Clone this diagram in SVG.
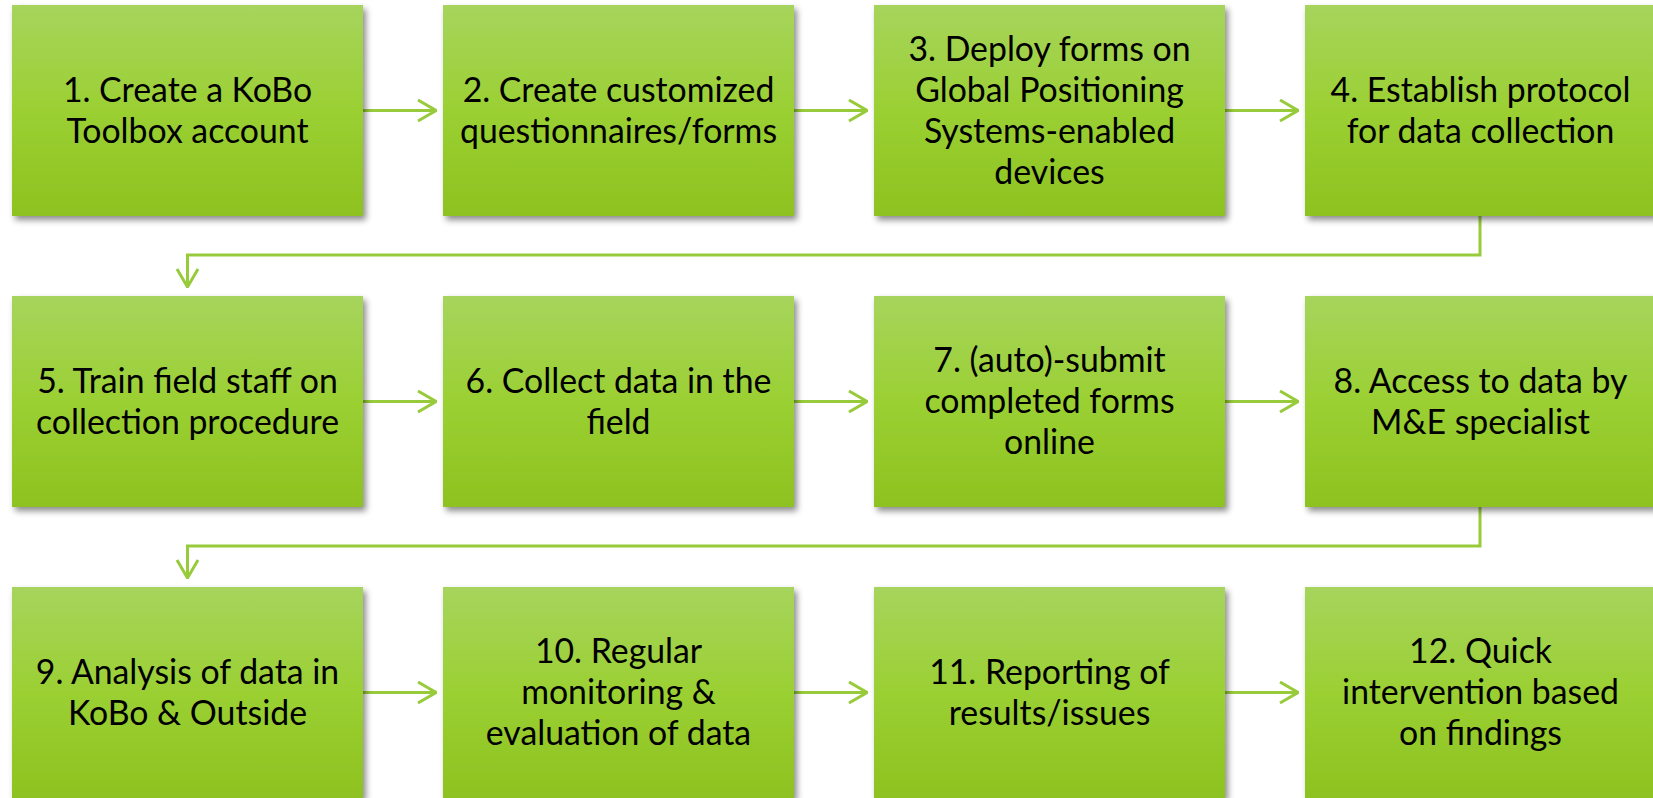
<svg xmlns="http://www.w3.org/2000/svg" width="1653" height="798" viewBox="0 0 1653 798">
  <defs>
    <linearGradient id="boxFill" x1="0" y1="0" x2="0" y2="1">
      <stop offset="0" stop-color="#a6d45c"/>
      <stop offset="0.5" stop-color="#9bd033"/>
      <stop offset="1" stop-color="#8dc220"/>
    </linearGradient>
    <filter id="shadow" x="-5%" y="-5%" width="115%" height="120%">
      <feDropShadow dx="3" dy="4" stdDeviation="3" flood-color="#000" flood-opacity="0.45"/>
    </filter>
    <marker id="chev" viewBox="0 0 20 24" refX="19" refY="12" markerWidth="20" markerHeight="24" markerUnits="userSpaceOnUse" orient="auto">
      <path d="M1,1.5 L19,12 L1,22.5" fill="none" stroke="#98cb3b" stroke-width="3"/>
    </marker>
  </defs>
  <style>
    .box { fill: url(#boxFill); filter: url(#shadow); }
    .lbl { font-family: Lato, "Open Sans", sans-serif; font-size: 33.8px; fill: #000; text-anchor: middle; }
    .conn { fill: none; stroke: #98cb3b; stroke-width: 3; marker-end: url(#chev); }
  </style>
  <rect width="1653" height="798" fill="#fff"/>

  <g id="connectors">
    <path class="conn" d="M363,110.5 H436"/>
    <path class="conn" d="M794,110.5 H867"/>
    <path class="conn" d="M1225,110.5 H1298"/>
    <path class="conn" d="M1480,216 V255 H187.5 V287"/>
    <path class="conn" d="M363,401.5 H436"/>
    <path class="conn" d="M794,401.5 H867"/>
    <path class="conn" d="M1225,401.5 H1298"/>
    <path class="conn" d="M1480,507 V546 H187.5 V578"/>
    <path class="conn" d="M363,692.5 H436"/>
    <path class="conn" d="M794,692.5 H867"/>
    <path class="conn" d="M1225,692.5 H1298"/>
  </g>

  <g id="n1"><rect class="box" x="12" y="5" width="351" height="211"/>
    <text class="lbl"><tspan x="187.5" y="101.5">1. Create a KoBo</tspan><tspan x="187.5" y="142.5">Toolbox account</tspan></text></g>
  <g id="n2"><rect class="box" x="443" y="5" width="351" height="211"/>
    <text class="lbl"><tspan x="618.5" y="101.5">2. Create customized</tspan><tspan x="618.5" y="142.5">questionnaires/forms</tspan></text></g>
  <g id="n3"><rect class="box" x="874" y="5" width="351" height="211"/>
    <text class="lbl"><tspan x="1049.5" y="60.5">3. Deploy forms on</tspan><tspan x="1049.5" y="101.5">Global Positioning</tspan><tspan x="1049.5" y="142.5">Systems-enabled</tspan><tspan x="1049.5" y="183.5">devices</tspan></text></g>
  <g id="n4"><rect class="box" x="1305" y="5" width="351" height="211"/>
    <text class="lbl"><tspan x="1480.5" y="101.5">4. Establish protocol</tspan><tspan x="1480.5" y="142.5">for data collection</tspan></text></g>

  <g id="n5"><rect class="box" x="12" y="296" width="351" height="211"/>
    <text class="lbl"><tspan x="187.5" y="392.5">5. Train field staff on</tspan><tspan x="187.5" y="433.5">collection procedure</tspan></text></g>
  <g id="n6"><rect class="box" x="443" y="296" width="351" height="211"/>
    <text class="lbl"><tspan x="618.5" y="392.5">6. Collect data in the</tspan><tspan x="618.5" y="433.5">field</tspan></text></g>
  <g id="n7"><rect class="box" x="874" y="296" width="351" height="211"/>
    <text class="lbl"><tspan x="1049.5" y="372">7. (auto)-submit</tspan><tspan x="1049.5" y="413">completed forms</tspan><tspan x="1049.5" y="454">online</tspan></text></g>
  <g id="n8"><rect class="box" x="1305" y="296" width="351" height="211"/>
    <text class="lbl"><tspan x="1480.5" y="392.5">8. Access to data by</tspan><tspan x="1480.5" y="433.5">M&amp;E specialist</tspan></text></g>

  <g id="n9"><rect class="box" x="12" y="587" width="351" height="211"/>
    <text class="lbl"><tspan x="187.5" y="683.5">9. Analysis of data in</tspan><tspan x="187.5" y="724.5">KoBo &amp; Outside</tspan></text></g>
  <g id="n10"><rect class="box" x="443" y="587" width="351" height="211"/>
    <text class="lbl"><tspan x="618.5" y="663">10. Regular</tspan><tspan x="618.5" y="704">monitoring &amp;</tspan><tspan x="618.5" y="745">evaluation of data</tspan></text></g>
  <g id="n11"><rect class="box" x="874" y="587" width="351" height="211"/>
    <text class="lbl"><tspan x="1049.5" y="683.5">11. Reporting of</tspan><tspan x="1049.5" y="724.5">results/issues</tspan></text></g>
  <g id="n12"><rect class="box" x="1305" y="587" width="351" height="211"/>
    <text class="lbl"><tspan x="1480.5" y="663">12. Quick</tspan><tspan x="1480.5" y="704">intervention based</tspan><tspan x="1480.5" y="745">on findings</tspan></text></g>
</svg>
